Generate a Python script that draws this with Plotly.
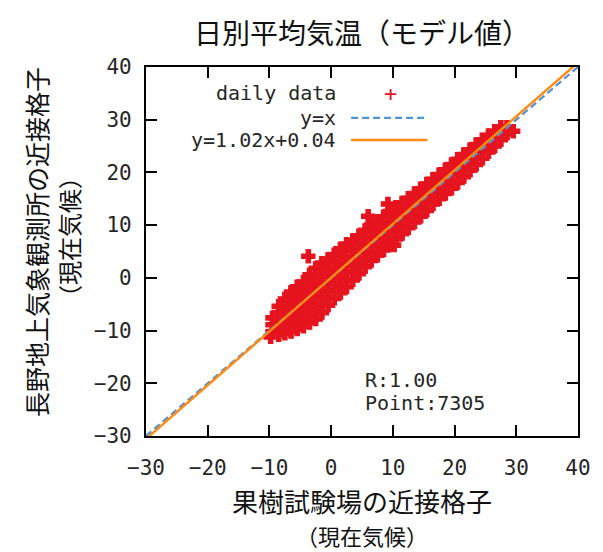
import plotly.graph_objects as go

# ---------------- data ----------------
chart_title = "日別平均気温（モデル値）"
x_title_lines = ["果樹試験場の近接格子", "（現在気候）"]
y_title_lines = ["長野地上気象観測所の近接格子", "（現在気候）"]

tick_vals = [-30, -20, -10, 0, 10, 20, 30, 40]
axis_range = [-30, 40]

fit_slope = 1.02
fit_intercept = 0.04
r_value = "1.00"
n_points = 7305

# daily data cloud (x: column, y: values in it)
col_x = [-9.5, -8.5, -7.5, -6.5, -5.5, -4.5, -3.5, -2.5, -1.5, -0.5,
         0.5, 1.5, 2.5, 3.5, 4.5, 5.5, 6.5, 7.5, 8.5, 9.5,
         10.5, 11.5, 12.5, 13.5, 14.5, 15.5, 16.5, 17.5, 18.5, 19.5,
         20.5, 21.5, 22.5, 23.5, 24.5, 25.5, 26.5, 27.5, 28.5, 29.5]
col_y = [
    [-10.2, -8.9, -7.6],
    [-10.8, -9.4, -8.0, -6.6, -5.4],
    [-10.5, -9.1, -7.7, -6.3, -4.9, -4.0],
    [-10.2, -8.8, -7.4, -6.0, -4.6, -3.2, -2.7],
    [-9.7, -8.3, -6.9, -5.5, -4.1, -2.7, -1.7],
    [-9.2, -7.8, -6.4, -5.0, -3.6, -2.2, -0.8],
    [-8.5, -7.1, -5.7, -4.3, -2.9, -1.5, -0.1, 0.6],
    [-7.8, -6.4, -5.0, -3.6, -2.2, -0.8, 0.6, 1.8],
    [-6.6, -5.2, -3.8, -2.4, -1.0, 0.4, 1.8, 2.8],
    [-5.2, -3.8, -2.4, -1.0, 0.4, 1.8, 3.5],
    [-3.9, -2.5, -1.1, 0.3, 1.7, 3.1, 4.4],
    [-2.8, -1.4, 0.0, 1.4, 2.8, 4.2, 5.5],
    [-1.7, -0.3, 1.1, 2.5, 3.9, 5.3, 6.4],
    [-0.4, 1.0, 2.4, 3.8, 5.2, 6.6, 7.1],
    [0.8, 2.2, 3.6, 5.0, 6.4, 8.0],
    [2.1, 3.5, 4.9, 6.3, 7.7, 9.0],
    [3.3, 4.7, 6.1, 7.5, 8.9, 10.0],
    [4.3, 5.7, 7.1, 8.5, 9.9, 10.7],
    [5.3, 6.7, 8.1, 9.5, 10.9, 11.6],
    [6.3, 7.7, 9.1, 10.5, 11.9, 12.6],
    [7.4, 8.8, 10.2, 11.6, 13.0, 13.4],
    [8.4, 9.8, 11.2, 12.6, 14.2],
    [9.5, 10.9, 12.3, 13.7, 15.1],
    [10.6, 12.0, 13.4, 14.8, 16.0],
    [11.7, 13.1, 14.5, 15.9, 16.9],
    [12.8, 14.2, 15.6, 17.0, 17.8],
    [14.0, 15.4, 16.8, 18.0, 18.7],
    [15.0, 16.5, 18.0, 19.6],
    [16.0, 17.5, 19.0, 20.5],
    [17.0, 18.5, 20.0, 21.5],
    [18.1, 19.6, 21.1, 22.5],
    [19.2, 20.6, 22.0, 23.4],
    [20.4, 21.8, 23.1, 24.3],
    [21.5, 22.8, 24.1, 25.3],
    [22.7, 24.0, 25.2, 26.2],
    [23.9, 25.2, 26.5, 27.0],
    [25.0, 26.4, 27.8],
    [26.2, 27.4, 28.6],
    [27.4, 28.6],
    [27.8],
]
# a few isolated points sticking out of the cloud
outlier_x = [6.0, 9.2, 10.2, -3.7, -9.8]
outlier_y = [11.7, 14.0, 6.2, 4.1, -11.2]

# ---------------- figure ----------------
daily_x, daily_y = [], []
for cx, ys in zip(col_x, col_y):
    for v in ys:
        daily_x.append(cx)
        daily_y.append(v)
daily_x += outlier_x
daily_y += outlier_y

RED = "#e5141e"
BLUE = "#4f93d6"
ORANGE = "#ff8a12"
MONO = "DejaVu Sans Mono"
CJK = "Noto Sans CJK JP"
TXT = "#262626"

fig = go.Figure()
fig.add_trace(go.Scatter(
    x=daily_x, y=daily_y, mode="markers", name="daily data",
    marker=dict(symbol="cross", size=11, color=RED, line=dict(width=1.2, color=RED)),
    showlegend=False, cliponaxis=True,
))
line_x = list(axis_range)
fig.add_trace(go.Scatter(
    x=line_x, y=[v for v in line_x], mode="lines", name="y=x",
    line=dict(color=BLUE, width=2.2, dash="7px,4px"), showlegend=False,
))
fig.add_trace(go.Scatter(
    x=line_x, y=[fit_slope * v + fit_intercept for v in line_x], mode="lines",
    name="y=%.2fx+%.2f" % (fit_slope, fit_intercept),
    line=dict(color=ORANGE, width=2.4), showlegend=False,
))

axis_common = dict(
    range=axis_range, tickvals=tick_vals, ticks="inside", ticklen=11, tickwidth=2,
    tickcolor="black", showline=True, linecolor="black", linewidth=2.2,
    mirror="allticks", showgrid=False, zeroline=False,
    tickfont=dict(family=MONO, size=21, color=TXT),
)
fig.update_xaxes(**axis_common, ticklabelstandoff=12)
fig.update_yaxes(**axis_common, ticklabelstandoff=8)

annotations = []
# title
annotations.append(dict(text=chart_title, x=0.5, y=1.095, xref="paper", yref="paper",
                        showarrow=False, xanchor="center", yanchor="middle",
                        font=dict(family=CJK, size=28, color="#111")))
# x title
annotations.append(dict(text=x_title_lines[0], x=0.5, y=-0.176, xref="paper", yref="paper",
                        showarrow=False, xanchor="center", yanchor="middle",
                        font=dict(family=CJK, size=26, color="#111")))
annotations.append(dict(text=x_title_lines[1], x=0.5, y=-0.268, xref="paper", yref="paper",
                        showarrow=False, xanchor="center", yanchor="middle",
                        font=dict(family=CJK, size=22, color="#111")))
# y title
annotations.append(dict(text=y_title_lines[0], x=-0.2546, y=0.526, xref="paper", yref="paper",
                        showarrow=False, xanchor="center", yanchor="middle", textangle=-90,
                        font=dict(family=CJK, size=25, color="#111")))
annotations.append(dict(text=y_title_lines[1], x=-0.181, y=0.539, xref="paper", yref="paper",
                        showarrow=False, xanchor="center", yanchor="middle", textangle=-90,
                        font=dict(family=CJK, size=24, color="#111")))
# legend texts (gnuplot style: label then sample)
legend_labels = ["daily data", "y=x", "y=%.2fx+%.2f" % (fit_slope, fit_intercept)]
legend_rows = [0.9295, 0.862, 0.802]
for lab, yy in zip(legend_labels, legend_rows):
    annotations.append(dict(text=lab, x=0.445, y=yy, xref="paper", yref="paper",
                            showarrow=False, xanchor="right", yanchor="middle",
                            font=dict(family=MONO, size=20, color=TXT)))
annotations.append(dict(text="+", x=0.5665, y=legend_rows[0], xref="paper", yref="paper",
                        showarrow=False, xanchor="center", yanchor="middle",
                        font=dict(family=MONO, size=22, color=RED)))
# stats
annotations.append(dict(text="R:%s" % r_value, x=0.502, y=0.152, xref="paper", yref="paper",
                        showarrow=False, xanchor="left", yanchor="middle",
                        font=dict(family=MONO, size=20, color=TXT)))
annotations.append(dict(text="Point:%d" % n_points, x=0.502, y=0.0894, xref="paper", yref="paper",
                        showarrow=False, xanchor="left", yanchor="middle",
                        font=dict(family=MONO, size=20, color=TXT)))

shapes = [
    dict(type="line", xref="paper", yref="paper", x0=0.4748, x1=0.6445,
         y0=legend_rows[1], y1=legend_rows[1], line=dict(color=BLUE, width=2.2, dash="7px,4px")),
    dict(type="line", xref="paper", yref="paper", x0=0.4748, x1=0.6514,
         y0=legend_rows[2], y1=legend_rows[2], line=dict(color=ORANGE, width=2.4)),
]

fig.update_layout(
    width=603, height=552,
    margin=dict(l=146, r=21, t=67, b=116),
    paper_bgcolor="white", plot_bgcolor="white",
    showlegend=False,
    annotations=annotations, shapes=shapes,
)

fig.write_html("out.html", config={"displayModeBar": False},
               post_script="document.body.style.margin='0px';")
